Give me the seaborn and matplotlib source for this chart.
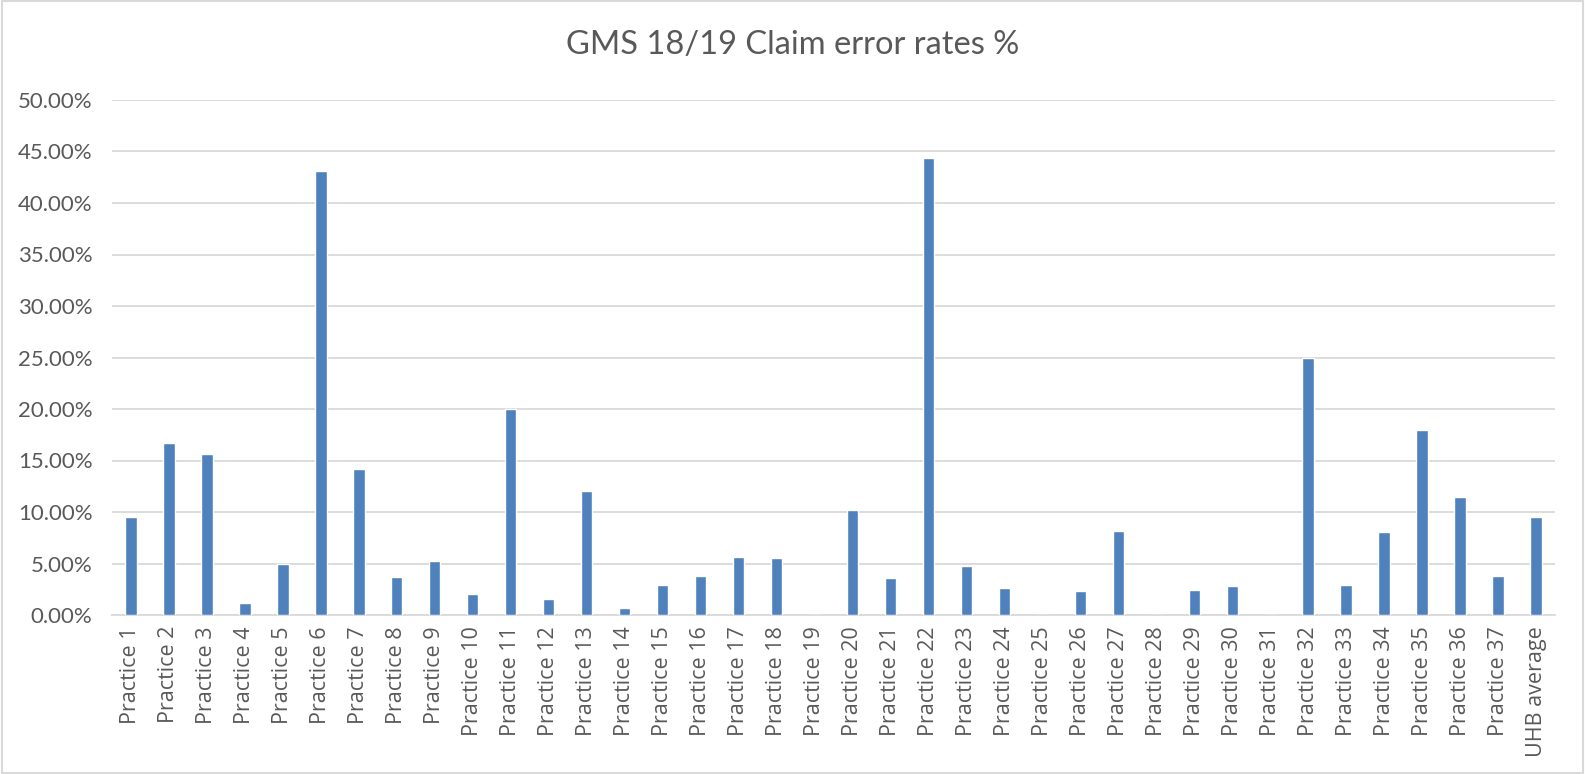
import matplotlib
matplotlib.use("Agg")
import matplotlib.pyplot as plt
import seaborn as sns
import pandas as pd
from matplotlib.ticker import FuncFormatter, MultipleLocator

categories = [f"Practice {i}" for i in range(1, 38)] + ["UHB average"]
error_rates = [9.5, 16.7, 15.6, 1.2, 5.0, 43.1, 14.2, 3.7, 5.2, 2.0,
               20.0, 1.6, 12.0, 0.7, 2.9, 3.8, 5.6, 5.5, 0.0, 10.2,
               3.6, 44.4, 4.8, 2.6, 0.0, 2.3, 8.2, 0.0, 2.4, 2.8,
               0.0, 25.0, 2.9, 8.1, 18.0, 11.5, 3.8, 9.5]
title = "GMS 18/19 Claim error rates %"

df = pd.DataFrame({"category": categories, "rate": error_rates})

sns.set_theme(style="white")
plt.rcParams['font.family'] = ['Lato', 'DejaVu Sans']

fig = plt.figure(figsize=(15.85, 7.74), dpi=100)
ax = fig.add_axes([112/1585, 1 - 615/774, (1555-112)/1585, (615-100)/774])

sns.barplot(data=df, x="category", y="rate", color="#4F81BD", saturation=1,
            width=0.3, ax=ax, zorder=3)

ax.set_ylim(0, 50)
ax.set_xlim(-0.5, len(categories) - 0.5)
ax.yaxis.set_major_locator(MultipleLocator(5))
ax.yaxis.set_major_formatter(FuncFormatter(lambda v, p: f"{v:.2f}%"))
ax.grid(axis="y", color="#D9D9D9", linewidth=1.3, zorder=0)
ax.set_axisbelow(True)
for s in ["top", "right", "left"]:
    ax.spines[s].set_visible(False)
ax.spines["bottom"].set_color("#D9D9D9")
ax.spines["bottom"].set_linewidth(1.3)
ax.set_xlabel("")
ax.set_ylabel("")
ax.tick_params(axis="x", rotation=90, labelsize=15.5, colors="#595959", length=0, pad=8)
ax.tick_params(axis="y", labelsize=16, colors="#595959", length=0, pad=14)
for lab in ax.get_xticklabels():
    lab.set_fontfamily(['Open Sans', 'DejaVu Sans'])

fig.text(0.5, 1 - 45/774, title, ha="center", va="center", fontsize=23.5, color="#595959")

border = plt.Rectangle((0.001, 0.001), 0.998, 0.998, transform=fig.transFigure,
                       fill=False, edgecolor="#D9D9D9", linewidth=1.5)
fig.patches.append(border)

fig.savefig("out.png", dpi=100, facecolor="white")
